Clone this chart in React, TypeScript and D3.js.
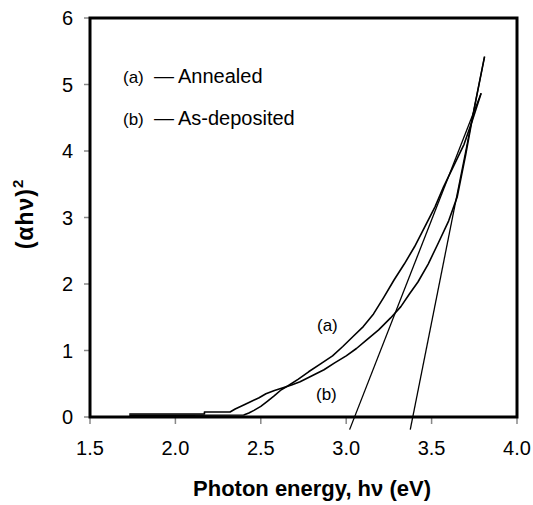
import React from "react";
import * as d3 from "d3";

const xTicks = [1.5, 2.0, 2.5, 3.0, 3.5, 4.0];
const yTicks = [0, 1, 2, 3, 4, 5, 6];

// (a) Annealed: [photon energy (eV), (alpha h nu)^2]
const annealed: [number, number][] = [
  [1.73, 0.025], [2.4, 0.03], [2.43, 0.06], [2.46, 0.1], [2.5, 0.16], [2.54, 0.24],
  [2.58, 0.32], [2.62, 0.41], [2.66, 0.47], [2.72, 0.57], [2.78, 0.68], [2.85, 0.8],
  [2.92, 0.92], [2.98, 1.06], [3.04, 1.21], [3.1, 1.36], [3.16, 1.55], [3.22, 1.8],
  [3.28, 2.06], [3.34, 2.3], [3.4, 2.56], [3.46, 2.86], [3.52, 3.16], [3.57, 3.46],
  [3.63, 3.78], [3.69, 4.1], [3.74, 4.47], [3.79, 4.87],
];

// (b) As-deposited
const asDeposited: [number, number][] = [
  [1.73, 0.045], [2.17, 0.045], [2.17, 0.075], [2.32, 0.075], [2.35, 0.12], [2.4, 0.18],
  [2.44, 0.23], [2.49, 0.29], [2.53, 0.35], [2.58, 0.4], [2.63, 0.44], [2.68, 0.48],
  [2.73, 0.53], [2.8, 0.62], [2.87, 0.71], [2.93, 0.81], [3.0, 0.92], [3.06, 1.03],
  [3.12, 1.16], [3.19, 1.31], [3.26, 1.49], [3.32, 1.66], [3.37, 1.85], [3.42, 2.03],
  [3.48, 2.3], [3.54, 2.62], [3.6, 2.95], [3.65, 3.31], [3.7, 3.95], [3.75, 4.65],
  [3.81, 5.42],
];

// Linear extrapolation (tangent) lines
const tangentA: [number, number][] = [[3.02, -0.19], [3.79, 4.87]];
const tangentB: [number, number][] = [[3.375, -0.19], [3.81, 5.42]];

const FONT = "'Liberation Sans', Arial, Helvetica, sans-serif";

export default function App() {
  const W = 533, H = 505;
  const left = 90, right = 517, top = 18, bottom = 417;
  const x = d3.scaleLinear().domain([1.5, 4.0]).range([left, right]);
  const y = d3.scaleLinear().domain([0, 6]).range([bottom, top]);
  const line = d3.line<[number, number]>().x((d) => x(d[0])).y((d) => y(d[1]));

  return (
    <svg width={W} height={H} style={{ position: "absolute", left: 0, top: 0, background: "#fff" }}
      fontFamily={FONT}>
      <rect x={0} y={0} width={W} height={H} fill="#fff" />
      {yTicks.map((t) => (
        <line key={"yt" + t} x1={left - 6} x2={left} y1={y(t)} y2={y(t)} stroke="#888" strokeWidth={1.5} />
      ))}
      {xTicks.map((t) => (
        <line key={"xt" + t} x1={x(t)} x2={x(t)} y1={bottom} y2={bottom + 7} stroke="#888" strokeWidth={1.5} />
      ))}
      {yTicks.map((t) => (
        <text key={"yl" + t} x={73} y={y(t) + 7} fontSize={20} textAnchor="end" fill="#000">{t}</text>
      ))}
      {xTicks.map((t) => (
        <text key={"xl" + t} x={x(t)} y={455} fontSize={20} textAnchor="middle" fill="#000">{t.toFixed(1)}</text>
      ))}

      <path d={line(annealed) || ""} fill="none" stroke="#000" strokeWidth={1.6} strokeLinejoin="round" />
      <path d={line(asDeposited) || ""} fill="none" stroke="#000" strokeWidth={1.6} strokeLinejoin="round" />
      <path d={line(tangentA) || ""} fill="none" stroke="#000" strokeWidth={1.3} />
      <path d={line(tangentB) || ""} fill="none" stroke="#000" strokeWidth={1.3} />

      <rect x={left} y={top} width={right - left} height={bottom - top} fill="none" stroke="#000" strokeWidth={3} />

      <text x={123} y={83} fontSize={17}>(a)</text>
      <text x={154} y={83} fontSize={20}>—</text>
      <text x={178} y={83} fontSize={20}>Annealed</text>
      <text x={123} y={125} fontSize={17}>(b)</text>
      <text x={154} y={125} fontSize={20}>—</text>
      <text x={178} y={125} fontSize={20}>As-deposited</text>

      <text x={317} y={331} fontSize={17}>(a)</text>
      <text x={316} y={400} fontSize={17}>(b)</text>

      <text x={312} y={496} fontSize={22} fontWeight="bold" textAnchor="middle">Photon energy, hν (eV)</text>
      <text transform="translate(33,214) rotate(-90)" fontSize={23} fontWeight="bold" textAnchor="middle" letterSpacing={1}>
        (αhν)<tspan dy={-10} fontSize={15}>2</tspan>
      </text>
    </svg>
  );
}
